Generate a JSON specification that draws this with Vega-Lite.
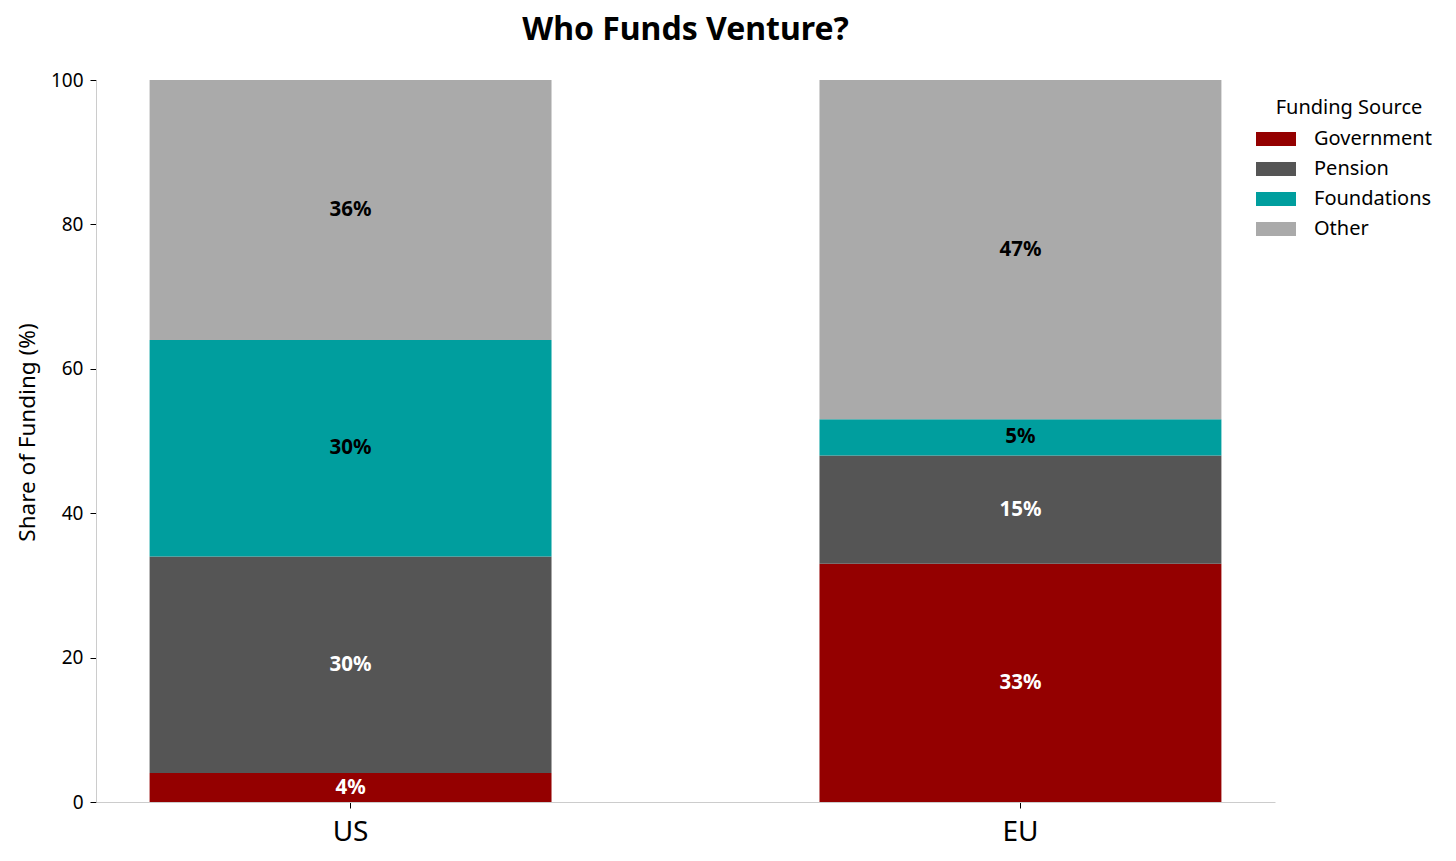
{
  "$schema": "https://vega.github.io/schema/vega-lite/v6.json",
  "width": 1179,
  "height": 722,
  "autosize": {"type": "none"},
  "padding": {"left": 96, "top": 80, "right": 181, "bottom": 59},
  "background": "white",
  "title": {
    "text": "Who Funds Venture?",
    "font": "Noto Sans",
    "fontSize": 32,
    "fontWeight": "bold",
    "color": "black",
    "anchor": "middle",
    "offset": 24
  },
  "config": {
    "view": {"stroke": null},
    "font": "Noto Sans"
  },
  "data": {
    "values": [
      {"Region": "US", "Source": "Government", "Value": 4},
      {"Region": "US", "Source": "Pension", "Value": 30},
      {"Region": "US", "Source": "Foundations", "Value": 30},
      {"Region": "US", "Source": "Other", "Value": 36},
      {"Region": "EU", "Source": "Government", "Value": 33},
      {"Region": "EU", "Source": "Pension", "Value": 15},
      {"Region": "EU", "Source": "Foundations", "Value": 5},
      {"Region": "EU", "Source": "Other", "Value": 47}
    ]
  },
  "transform": [
    {"calculate": "indexof(['Government','Pension','Foundations','Other'], datum.Source)", "as": "idx"},
    {"stack": "Value", "groupby": ["Region"], "sort": [{"field": "idx", "order": "ascending"}], "as": ["y0", "y1"]},
    {"calculate": "(datum.y0 + datum.y1) / 2", "as": "ymid"},
    {"calculate": "datum.Value + '%'", "as": "Label"}
  ],
  "encoding": {
    "x": {
      "field": "Region",
      "type": "nominal",
      "sort": ["US", "EU"],
      "scale": {"paddingInner": 0.4, "paddingOuter": 0.08},
      "axis": {
        "title": null,
        "labelAngle": 0,
        "labelFontSize": 28,
        "labelColor": "black",
        "labelPadding": 10,
        "domainColor": "#cccccc",
        "tickColor": "black",
        "tickSize": 6
      }
    }
  },
  "layer": [
    {
      "mark": {"type": "bar"},
      "encoding": {
        "y": {
          "field": "y1",
          "type": "quantitative",
          "scale": {"domain": [0, 100], "nice": false},
          "axis": {
            "title": "Share of Funding (%)",
            "titleFontSize": 22.5,
            "titleFontWeight": "normal",
            "titleColor": "black",
            "titlePadding": 11,
            "titleY": 352,
            "values": [0, 20, 40, 60, 80, 100],
            "labelFontSize": 19,
            "labelColor": "black",
            "labelPadding": 7,
            "grid": false,
            "domainColor": "#cccccc",
            "tickColor": "black",
            "tickSize": 6
          }
        },
        "y2": {"field": "y0"},
        "color": {
          "field": "Source",
          "type": "nominal",
          "scale": {
            "domain": ["Government", "Pension", "Foundations", "Other"],
            "range": ["#940000", "#555555", "#009e9e", "#aaaaaa"]
          },
          "legend": {
            "title": "Funding Source",
            "orient": "none",
            "legendX": 1170,
            "legendY": 18,
            "padding": 0,
            "titleFontSize": 20,
            "titleFontWeight": "normal",
            "titleColor": "black",
            "titleAnchor": "middle",
            "titlePadding": 11,
            "labelFontSize": 20,
            "labelColor": "black",
            "labelOffset": 28,
            "rowPadding": 10,
            "symbolType": "M-2,-0.7H2V0.7H-2Z",
            "symbolSize": 400,
            "symbolStrokeWidth": 0,
            "symbolOpacity": 1
          }
        }
      }
    },
    {
      "mark": {"type": "text", "fontSize": 20.5, "fontWeight": "bold", "baseline": "middle", "align": "center"},
      "encoding": {
        "y": {"field": "ymid", "type": "quantitative"},
        "text": {"field": "Label", "type": "nominal"},
        "color": {
          "condition": {"test": "datum.Source === 'Government' || datum.Source === 'Pension'", "value": "white"},
          "value": "black"
        }
      }
    }
  ]
}
